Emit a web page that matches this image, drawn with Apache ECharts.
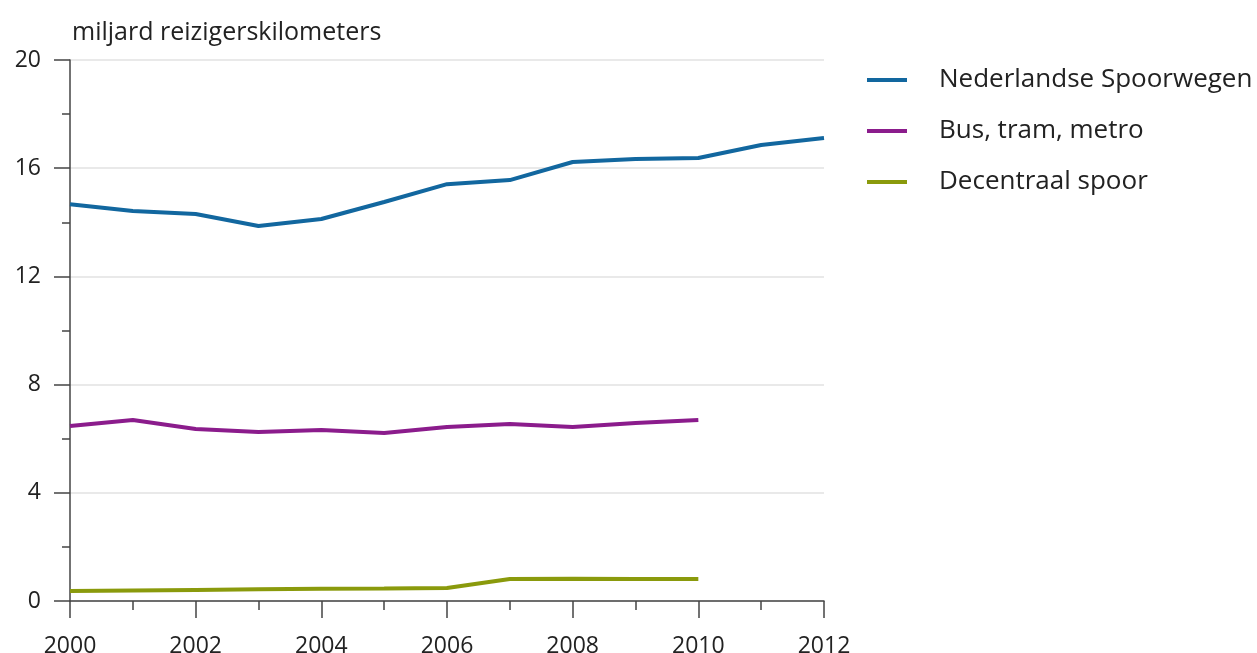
<!DOCTYPE html>
<html>
<head>
<meta charset="utf-8">
<script src="https://cdn.jsdelivr.net/npm/echarts@6/dist/echarts.min.js"></script>
<style>
html,body{margin:0;padding:0;background:#fff;}
#chart{width:1257px;height:653px;}
</style>
</head>
<body>
<div id="chart"></div>
<script>
const years = [2000, 2001, 2002, 2003, 2004, 2005, 2006, 2007, 2008, 2009, 2010, 2011, 2012];
const nsValues = [14.67, 14.42, 14.31, 13.86, 14.12, 14.75, 15.41, 15.56, 16.23, 16.34, 16.38, 16.86, 17.12];
const btmValues = [6.47, 6.69, 6.36, 6.25, 6.32, 6.21, 6.43, 6.54, 6.43, 6.58, 6.69];
const decValues = [0.37, 0.39, 0.41, 0.43, 0.45, 0.46, 0.48, 0.81, 0.82, 0.81, 0.81];
const seriesNames = ['Nederlandse Spoorwegen', 'Bus, tram, metro', 'Decentraal spoor'];
const yTicks = [0, 4, 8, 12, 16, 20];
const xTicks = [2000, 2002, 2004, 2006, 2008, 2010, 2012];
const unitLabel = 'miljard reizigerskilometers';

const colors = ['#12679f', '#8b1c8c', '#8a9a0c'];
const font = '"Open Sans", sans-serif';

function pairs(vals) { return vals.map((v, i) => [years[i], v]); }

const chart = echarts.init(document.getElementById('chart'));
chart.setOption({
  animation: false,
  backgroundColor: '#fff',
  title: {
    text: unitLabel,
    left: 67, top: 15,
    textStyle: { fontFamily: font, fontSize: 25, fontWeight: 'normal', color: '#222' }
  },
  grid: { left: 70, right: 433, top: 60, bottom: 52, containLabel: false, outerBoundsMode: 'none' },
  legend: {
    orient: 'vertical',
    left: 862, top: 62,
    itemWidth: 40, itemHeight: 14,
    itemGap: 25,
    icon: 'path://M0,5 L40,5 L40,9 L0,9 Z',
    textStyle: { fontFamily: font, fontSize: 26, color: '#222', padding: [0, 0, 0, 27] },
    data: seriesNames
  },
  xAxis: {
    type: 'value',
    min: 2000, max: 2012, interval: 2,
    axisLine: { show: true, lineStyle: { color: '#444', width: 1.5 } },
    axisTick: { show: true, length: 17, lineStyle: { color: '#444', width: 1.5 } },
    minorTick: { show: true, splitNumber: 2, length: 9, lineStyle: { color: '#444', width: 1.5 } },
    splitLine: { show: false },
    axisLabel: {
      margin: 34, fontFamily: font, fontSize: 23, color: '#222',
      formatter: v => xTicks.includes(v) ? String(v) : ''
    }
  },
  yAxis: {
    type: 'value',
    min: 0, max: 20, interval: 4,
    axisLine: { show: true, lineStyle: { color: '#444', width: 1.5 } },
    axisTick: { show: true, length: 16, lineStyle: { color: '#444', width: 1.5 } },
    minorTick: { show: true, splitNumber: 2, length: 8, lineStyle: { color: '#444', width: 1.5 } },
    splitLine: { show: true, lineStyle: { color: '#e2e2e2', width: 1.5 } },
    axisLabel: {
      margin: 29, fontFamily: font, fontSize: 23, color: '#222',
      formatter: v => yTicks.includes(v) ? String(v) : ''
    }
  },
  series: [
    { name: seriesNames[0], type: 'line', data: pairs(nsValues), symbol: 'none', lineStyle: { width: 4, color: colors[0] }, itemStyle: { color: colors[0] } },
    { name: seriesNames[1], type: 'line', data: pairs(btmValues), symbol: 'none', lineStyle: { width: 4, color: colors[1] }, itemStyle: { color: colors[1] } },
    { name: seriesNames[2], type: 'line', data: pairs(decValues), symbol: 'none', lineStyle: { width: 4, color: colors[2] }, itemStyle: { color: colors[2] } }
  ]
});
</script>
</body>
</html>
